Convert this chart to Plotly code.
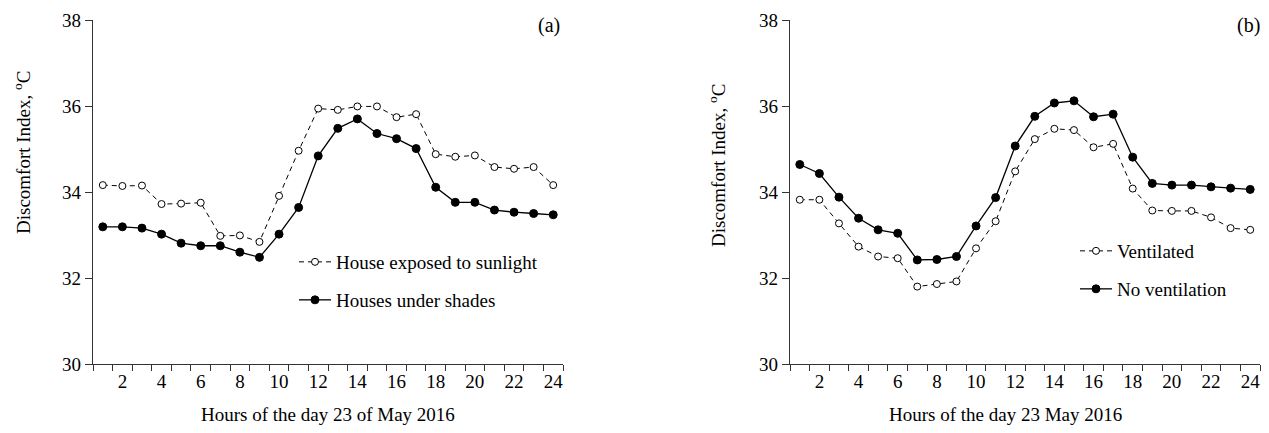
import plotly.graph_objects as go

hours = list(range(1, 25))
tick_hours = list(range(2, 25, 2))
y_ticks = [30, 32, 34, 36, 38]

sunlight = [34.16, 34.14, 34.15, 33.72, 33.73, 33.75, 32.98, 32.99, 32.84, 33.91,
            34.96, 35.94, 35.91, 35.99, 35.99, 35.74, 35.81, 34.88, 34.82, 34.85,
            34.58, 34.54, 34.58, 34.16]
shades = [33.19, 33.19, 33.16, 33.02, 32.81, 32.75, 32.75, 32.60, 32.48, 33.02,
          33.64, 34.84, 35.48, 35.70, 35.36, 35.24, 35.01, 34.11, 33.76, 33.76,
          33.58, 33.53, 33.50, 33.47]
ventilated = [33.82, 33.82, 33.27, 32.73, 32.50, 32.46, 31.80, 31.86, 31.92, 32.69,
              33.32, 34.48, 35.23, 35.47, 35.44, 35.04, 35.12, 34.08, 33.57, 33.56,
              33.56, 33.41, 33.16, 33.12]
no_vent = [34.64, 34.43, 33.88, 33.39, 33.12, 33.04, 32.42, 32.43, 32.50, 33.21,
           33.87, 35.07, 35.76, 36.07, 36.12, 35.75, 35.81, 34.81, 34.20, 34.16,
           34.16, 34.12, 34.09, 34.06]

FONT = "Liberation Serif, Times New Roman, serif"
OFF = 8                      # page body margin
W, H = 1253, 417             # figure size


def px(x):
    return (x - OFF) / W


def py(y):
    return 1 - (y - OFF) / H


open_marker = dict(symbol="circle", size=7, color="white", line=dict(color="black", width=1))
fill_marker = dict(symbol="circle", size=8, color="black", line=dict(color="black", width=1))
DASH = "5px,4px"

fig = go.Figure()
fig.add_trace(go.Scatter(x=hours, y=sunlight, mode="lines+markers", name="House exposed to sunlight",
                         line=dict(color="black", width=1, dash=DASH), marker=open_marker,
                         xaxis="x", yaxis="y", legend="legend"))
fig.add_trace(go.Scatter(x=hours, y=shades, mode="lines+markers", name="Houses under shades",
                         line=dict(color="black", width=1.3), marker=fill_marker,
                         xaxis="x", yaxis="y", legend="legend2"))
fig.add_trace(go.Scatter(x=hours, y=ventilated, mode="lines+markers", name="Ventilated",
                         line=dict(color="black", width=1, dash=DASH), marker=open_marker,
                         xaxis="x2", yaxis="y2", legend="legend3"))
fig.add_trace(go.Scatter(x=hours, y=no_vent, mode="lines+markers", name="No ventilation",
                         line=dict(color="black", width=1.3), marker=fill_marker,
                         xaxis="x2", yaxis="y2", legend="legend4"))

TF = dict(family=FONT, size=19, color="black")


def xaxis(x0, x1, anchor):
    return dict(domain=[px(x0), px(x1)], anchor=anchor, range=[0.5, 24.5], tickvals=tick_hours,
                ticktext=[str(h) for h in tick_hours], ticks="", showgrid=False, zeroline=False,
                showline=True, linecolor="#333", linewidth=1.2, automargin=False,
                minor=dict(tick0=0.5, dtick=1, ticks="outside", ticklen=6, tickcolor="#333",
                           tickwidth=1, showgrid=False),
                tickfont=TF, fixedrange=True)


def yaxis(anchor):
    return dict(domain=[py(364), py(20)], anchor=anchor, range=[30, 38],
                tickvals=y_ticks, ticks="outside", ticklen=7, tickcolor="#333", tickwidth=1,
                showgrid=False, zeroline=False, showline=True, linecolor="#333", linewidth=1.2,
                automargin=False, tickfont=TF, fixedrange=True)


def legend(x, ycenter):
    return dict(x=px(x), y=py(ycenter), xanchor="left", yanchor="middle",
                bgcolor="rgba(0,0,0,0)", font=TF, itemwidth=32)


def note(text, x, y, size=19, angle=0):
    return dict(text=text, x=px(x), y=py(y), xref="paper", yref="paper", showarrow=False,
                xanchor="center", yanchor="middle",
                textangle=angle, font=dict(family=FONT, size=size, color="black"))


fig.update_layout(
    width=W, height=H, margin=dict(l=0, r=0, t=0, b=0, autoexpand=False),
    paper_bgcolor="white", plot_bgcolor="white",
    xaxis=xaxis(93, 563, "y"),
    yaxis=yaxis("x"),
    xaxis2=xaxis(790, 1260, "y2"),
    yaxis2=yaxis("x2"),
    legend=legend(294, 262), legend2=legend(294, 300),
    legend3=legend(1075, 251), legend4=legend(1075, 289),
    showlegend=True,
    annotations=[
        note("(a)", 549, 26, size=20),
        note("(b)", 1248, 26, size=20),
        note("Discomfort Index, <sup>o</sup>C", 22, 153, angle=-90),
        note("Discomfort Index, <sup>o</sup>C", 717, 166, angle=-90),
        note("Hours of the day 23 of May 2016", 328, 414),
        note("Hours of the day 23 May 2016", 1005, 414),
    ],
)

fig.write_html("out.html")
